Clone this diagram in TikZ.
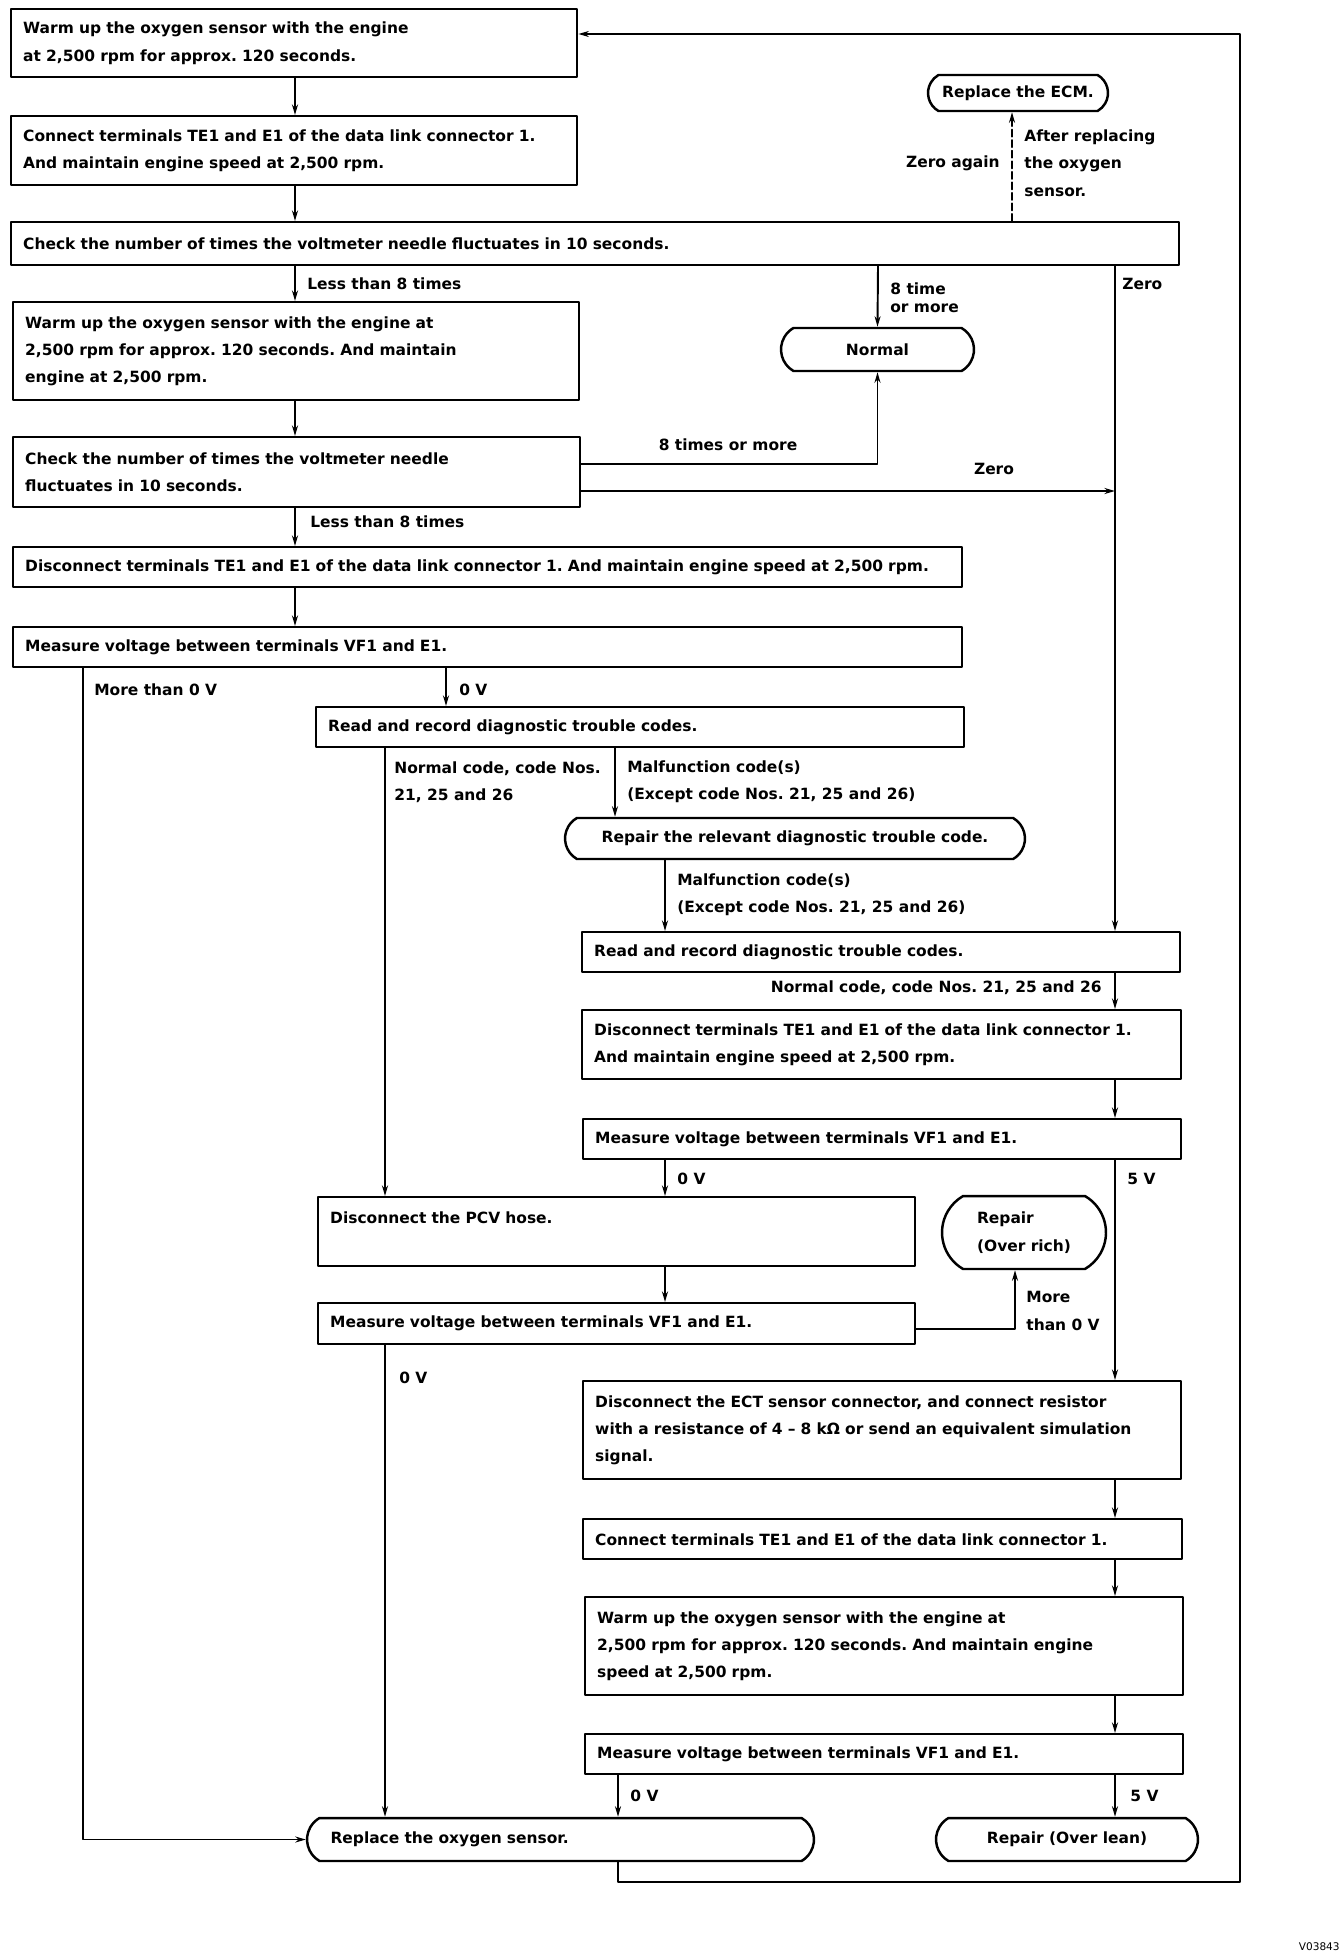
\documentclass[tikz,border=0pt]{standalone}
\usepackage{fontspec}
\setmainfont{DejaVu Sans}
\frenchspacing
\usetikzlibrary{arrows.meta,shapes.misc}
\tikzset{
  every picture/.style={line join=round, line cap=round, >={Stealth[length=6pt,width=3.4pt]}},
  stepbox/.style={draw, line width=1.4pt, align=left, inner xsep=0.24cm, inner ysep=0pt, anchor=north west},
  endbox/.style={draw, line width=1.4pt, rounded rectangle, rounded rectangle arc length=120, inner xsep=0pt, inner ysep=0pt},
  flow/.style={line width=1.1pt, ->},
  lbl/.style={inner sep=0pt, align=left, anchor=west},
}
\begin{document}
\begin{tikzpicture}[x=0.02cm, y=-0.02cm, font=\bfseries\fontsize{8.8}{15.6}\selectfont]
\useasboundingbox (0,0) rectangle (1344,1960);

\node[stepbox, minimum width=11.32cm, minimum height=1.36cm, text width=10.84cm] (warmA) at (10,8) {Warm up the oxygen sensor with the engine\\at 2,500 rpm for approx. 120 seconds.};
\node[stepbox, minimum width=11.32cm, minimum height=1.38cm, text width=10.84cm] (connA) at (10,115) {Connect terminals TE1 and E1 of the data link connector 1.\\And maintain engine speed at 2,500 rpm.};
\node[stepbox, minimum width=23.36cm, minimum height=0.86cm, text width=22.88cm] (checkA) at (10,221) {Check the number of times the voltmeter needle fluctuates in 10 seconds.};
\node[stepbox, minimum width=11.32cm, minimum height=1.96cm, text width=10.84cm] (warmB) at (12,301) {Warm up the oxygen sensor with the engine at\\2,500 rpm for approx. 120 seconds. And maintain\\engine at 2,500 rpm.};
\node[stepbox, minimum width=11.34cm, minimum height=1.40cm, text width=10.86cm] (checkB) at (12,436) {Check the number of times the voltmeter needle\\fluctuates in 10 seconds.};
\node[stepbox, minimum width=18.98cm, minimum height=0.80cm, text width=18.50cm] (discA) at (12,546) {\mbox{Disconnect terminals TE1 and E1 of the data link connector 1. And maintain engine speed at 2,500 rpm.}};
\node[stepbox, minimum width=18.98cm, minimum height=0.80cm, text width=18.50cm] (measA) at (12,626) {Measure voltage between terminals VF1 and E1.};
\node[stepbox, minimum width=12.96cm, minimum height=0.80cm, text width=12.48cm] (readA) at (315,706) {Read and record diagnostic trouble codes.};
\node[stepbox, minimum width=11.96cm, minimum height=0.80cm, text width=11.48cm] (readB) at (581,931) {Read and record diagnostic trouble codes.};
\node[stepbox, minimum width=11.98cm, minimum height=1.38cm, text width=11.50cm] (discB) at (581,1009) {Disconnect terminals TE1 and E1 of the data link connector 1.\\And maintain engine speed at 2,500 rpm.};
\node[stepbox, minimum width=11.96cm, minimum height=0.80cm, text width=11.48cm] (measB) at (582,1118) {Measure voltage between terminals VF1 and E1.};
\node[stepbox, minimum width=11.94cm, minimum height=1.38cm, text width=11.46cm] (pcv) at (317,1196) {Disconnect the PCV hose.\\\mbox{}};
\node[stepbox, minimum width=11.94cm, minimum height=0.82cm, text width=11.46cm] (measC) at (317,1302) {Measure voltage between terminals VF1 and E1.};
\node[stepbox, minimum width=11.96cm, minimum height=1.96cm, text width=11.48cm] (ect) at (582,1380) {Disconnect the ECT sensor connector, and connect resistor\\with a resistance of 4 – 8 kΩ or send an equivalent simulation\\signal.};
\node[stepbox, minimum width=11.98cm, minimum height=0.80cm, text width=11.50cm] (connB) at (582,1518) {Connect terminals TE1 and E1 of the data link connector 1.};
\node[stepbox, minimum width=11.96cm, minimum height=1.96cm, text width=11.48cm] (warmC) at (584,1596) {Warm up the oxygen sensor with the engine at\\2,500 rpm for approx. 120 seconds. And maintain engine\\speed at 2,500 rpm.};
\node[stepbox, minimum width=11.96cm, minimum height=0.80cm, text width=11.48cm] (measD) at (584,1733) {Measure voltage between terminals VF1 and E1.};

\node[endbox, minimum width=3.6cm, minimum height=0.72cm] (ecm) at (1018,93) {Replace the ECM.};
\node[endbox, minimum width=3.86cm, minimum height=0.86cm] (normal) at (877.5,349.5) {Normal};
\node[endbox, minimum width=9.2cm, minimum height=0.82cm] (repDtc) at (795,838.5) {Repair the relevant diagnostic trouble code.};
\node[endbox, minimum width=3.28cm, minimum height=1.46cm, align=left] (rich) at (1024,1232.5) {Repair\\(Over rich)};
\node[endbox, minimum width=10.14cm, minimum height=0.86cm, text width=9.2cm, align=left] (replO) at (560.5,1839.5) {Replace the oxygen sensor.};
\node[endbox, minimum width=5.24cm, minimum height=0.86cm] (lean) at (1067,1839.5) {Repair (Over lean)};

\coordinate (cA) at (295,0);
\coordinate (cN) at (878,0);
\coordinate (cZ) at (1115,0);
\coordinate (cD) at (1012,0);
\coordinate (cL) at (83,0);
\coordinate (cV) at (446,0);
\coordinate (cC) at (385,0);
\coordinate (cM) at (615,0);
\coordinate (cP) at (665,0);
\coordinate (cO) at (618,0);
\coordinate (cR) at (1015,0);
\coordinate (eHi) at (0,464);
\coordinate (eLo) at (0,491);
\coordinate (mRich) at (0,1329);
\coordinate (loopB) at (1240,1882);
\coordinate (loopT) at (1240,34);

\draw[flow] (warmA.south -| cA) -- (connA.north -| cA);
\draw[flow] (connA.south -| cA) -- (checkA.north -| cA);
\draw[flow] (checkA.south -| cA) -- (warmB.north -| cA);
\draw[flow] (checkA.south -| cN) -- (normal.north);
\draw[flow] (checkA.south -| cZ) -- (readB.north -| cZ);
\draw[flow, dash pattern=on 4pt off 2pt] (checkA.north -| cD) -- (ecm.south -| cD);
\draw[flow] (warmB.south -| cA) -- (checkB.north -| cA);
\draw[flow] (checkB.east |- eHi) -| (normal.south);
\draw[flow] (checkB.east |- eLo) -- (eLo -| cZ);
\draw[flow] (checkB.south -| cA) -- (discA.north -| cA);
\draw[flow] (discA.south -| cA) -- (measA.north -| cA);
\draw[flow] (measA.south -| cL) |- (replO.west);
\draw[flow] (measA.south -| cV) -- (readA.north -| cV);
\draw[flow] (readA.south -| cC) -- (pcv.north -| cC);
\draw[flow] (readA.south -| cM) -- (repDtc.north -| cM);
\draw[flow] (repDtc.south -| cP) -- (readB.north -| cP);
\draw[flow] (readB.south -| cZ) -- (discB.north -| cZ);
\draw[flow] (discB.south -| cZ) -- (measB.north -| cZ);
\draw[flow] (measB.south -| cP) -- (pcv.north -| cP);
\draw[flow] (measB.south -| cZ) -- (ect.north -| cZ);
\draw[flow] (pcv.south -| cP) -- (measC.north -| cP);
\draw[flow] (measC.east |- mRich) -| (rich.south -| cR);
\draw[flow] (measC.south -| cC) -- (replO.north -| cC);
\draw[flow] (ect.south -| cZ) -- (connB.north -| cZ);
\draw[flow] (connB.south -| cZ) -- (warmC.north -| cZ);
\draw[flow] (warmC.south -| cZ) -- (measD.north -| cZ);
\draw[flow] (measD.south -| cO) -- (replO.north -| cO);
\draw[flow] (measD.south -| cZ) -- (lean.north -| cZ);
\draw[flow] (replO.south -| cO) |- (loopB) -- (loopT) -- (warmA.east |- loopT);

\node[lbl, anchor=east] (lZeroAgain) at (1000,163) {Zero again};
\node[lbl] (lAfter) at (1024,163) {After replacing\\the oxygen\\sensor.};
\node[lbl] (lLessA) at (307,284) {Less than 8 times};
\node[lbl, font=\bfseries\fontsize{8.8}{10.4}\selectfont] (lEightA) at (890,298) {8 time\\or more};
\node[lbl] (lZeroA) at (1122,284) {Zero};
\node[lbl, anchor=center] (lEightB) at (728,445) {8 times or more};
\node[lbl, anchor=center] (lZeroB) at (994,469) {Zero};
\node[lbl] (lLessB) at (310,522) {Less than 8 times};
\node[lbl] (lMoreA) at (94,690) {More than 0 V};
\node[lbl] (lVoltA) at (459,690) {0 V};
\node[lbl] (lNormA) at (394,782) {Normal code, code Nos.\\21, 25 and 26};
\node[lbl] (lMalA) at (627,782) {Malfunction code(s)\\(Except code Nos. 21, 25 and 26)};
\node[lbl] (lMalB) at (677,895) {Malfunction code(s)\\(Except code Nos. 21, 25 and 26)};
\node[lbl, anchor=east] (lNormB) at (1102,988) {Normal code, code Nos. 21, 25 and 26};
\node[lbl] (lVoltB) at (677,1179) {0 V};
\node[lbl] (lFiveA) at (1127,1179) {5 V};
\node[lbl] (lMoreB) at (1026,1311) {More\\than 0 V};
\node[lbl] (lVoltC) at (399,1378) {0 V};
\node[lbl] (lVoltD) at (630,1796) {0 V};
\node[lbl] (lFiveB) at (1130,1796) {5 V};
\node[lbl, anchor=east, font=\fontsize{6}{7}\selectfont] (lCode) at (1340,1947) {V03843};
\end{tikzpicture}
\end{document}
